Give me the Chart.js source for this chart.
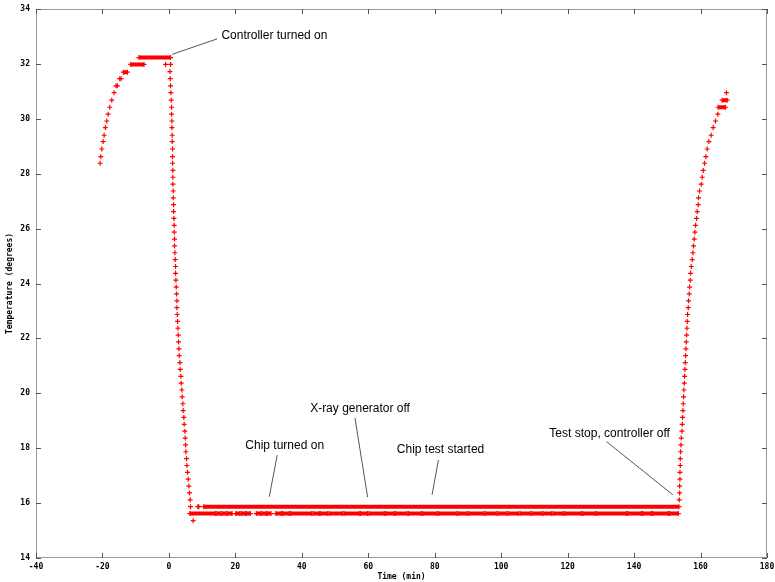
<!DOCTYPE html>
<html>
<head>
<meta charset="utf-8">
<title>Temperature log</title>
<script src="https://cdn.jsdelivr.net/npm/chart.js@4.4.1/dist/chart.umd.min.js"></script>
<style>
  html, body { margin: 0; padding: 0; background: #fff; }
  canvas { display: block; }
</style>
</head>
<body>
<canvas id="tempChart" width="775" height="582"></canvas>
<script>
// --- messwerte (Zeit in min, Temperatur in Grad) ---

// Aufheizen vor dem Einschalten des Reglers
const warmTime = [-20.7, -20.5, -20.2, -19.8, -19.5, -19.1, -18.7, -18.3, -17.8, -17.2, -16.5, -15.9, -15.5, -14.8, -14.4, -1.0, 0.5];
const warmTemp = [28.38, 28.62, 28.9, 29.17, 29.4, 29.68, 29.92, 30.17, 30.42, 30.68, 30.95, 31.2, 31.2, 31.46, 31.46, 31.98, 31.98];

// Abkühlen nach dem Einschalten
const coolTime = [0.3, 0.4, 0.5, 0.6, 0.7, 0.8, 0.8, 0.9, 0.9, 1.0, 1.0, 1.1, 1.1, 1.1, 1.2, 1.2, 1.2, 1.3, 1.3, 1.4, 1.4,
                  1.5, 1.6, 1.6, 1.7, 1.7, 1.8, 1.9, 2.0, 2.0, 2.1, 2.2, 2.3, 2.4, 2.4, 2.5, 2.6, 2.7, 2.8, 2.9, 3.0,
                  3.1, 3.3, 3.4, 3.6, 3.7, 3.9, 4.0, 4.2, 4.3, 4.5, 4.6, 4.8, 4.9, 5.0, 5.1, 5.3, 5.4, 5.6, 5.8, 6.0,
                  6.2, 6.4, 6.5, 7.3, 8.7, 9.0];
const coolTemp = [31.72, 31.46, 31.2, 30.95, 30.68, 30.42, 30.17, 29.92, 29.68, 29.4, 29.17, 28.9, 28.62, 28.38, 28.12,
                  27.87, 27.62, 27.37, 27.12, 26.87, 26.62, 26.37, 26.12, 25.87, 25.62, 25.37, 25.12, 24.87, 24.62,
                  24.37, 24.12, 23.87, 23.62, 23.37, 23.12, 22.87, 22.62, 22.37, 22.12, 21.87, 21.62, 21.37, 21.12,
                  20.87, 20.62, 20.37, 20.12, 19.87, 19.62, 19.37, 19.12, 18.87, 18.62, 18.37, 18.12, 17.87, 17.62,
                  17.37, 17.12, 16.87, 16.62, 16.37, 16.12, 15.87, 15.36, 15.87, 15.87];

// Wiederaufheizen nach Testende
const reheatTime = [153.6, 153.7, 153.7, 153.8, 153.8, 153.9, 153.9, 154.0, 154.1, 154.2, 154.4, 154.5, 154.6, 154.7,
                    154.8, 154.9, 155.0, 155.1, 155.2, 155.3, 155.4, 155.5, 155.6, 155.7, 155.8, 155.9, 156.0, 156.1,
                    156.3, 156.4, 156.6, 156.7, 156.9, 157.0, 157.2, 157.5, 157.7, 157.9, 158.1, 158.3, 158.5, 158.8,
                    159.0, 159.3, 159.4, 159.7, 160.2, 160.5, 160.8, 161.2, 161.6, 162.0, 162.5, 163.2, 163.8, 164.5,
                    165.2, 167.8];
const reheatTemp = [16.12, 16.37, 16.62, 16.87, 17.12, 17.37, 17.62, 17.87, 18.12, 18.37, 18.62, 18.87, 19.12, 19.37,
                    19.62, 19.87, 20.12, 20.37, 20.62, 20.87, 21.12, 21.37, 21.62, 21.87, 22.12, 22.37, 22.62, 22.87,
                    23.12, 23.37, 23.62, 23.87, 24.12, 24.37, 24.62, 24.87, 25.12, 25.37, 25.62, 25.87, 26.12, 26.37,
                    26.62, 26.87, 27.12, 27.37, 27.62, 27.87, 28.12, 28.38, 28.62, 28.9, 29.17, 29.4, 29.68, 29.92,
                    30.17, 30.95];

// dichte Abschnitte auf konstantem Niveau: [von, bis, Temperatur]
const plateauRuns = [
  [-13.7, -12.5, 31.7], [-11.5, -7.5, 31.98], [-9.0, 0.5, 32.23],
  [10.5, 153.5, 15.87],
  [165.3, 167.5, 30.42], [166.5, 168.0, 30.68],
];

// untere Messstufe flackert zwischen zwei Werten
const DITHER_TEMP = 15.62;
const ditherRuns = [
  [6.3, 14.0], [14.4, 15.6], [16.0, 17.2], [17.6, 19.0], [20.1, 21.4], [21.8, 23.0], [23.3, 24.5],
  [26.3, 27.6], [28.0, 29.3], [29.6, 30.7], [32.2, 33.8], [34.2, 36.2], [36.6, 43.0], [43.4, 45.3],
  [45.7, 47.8], [48.2, 52.3], [52.7, 57.3], [57.7, 59.8], [60.2, 64.8], [65.2, 67.8], [68.2, 71.7],
  [72.1, 75.9], [76.3, 80.7], [81.1, 86.7], [87.1, 89.7], [90.1, 94.8], [95.2, 98.7], [99.1, 101.7],
  [102.1, 105.3], [105.7, 108.9], [109.3, 112.2], [112.6, 115.2], [115.6, 118.8], [119.2, 124.2],
  [124.6, 128.4], [128.8, 137.7], [138.1, 142.2], [142.6, 145.2], [145.6, 150.3], [150.7, 153.3],
];

// Ereignisse: Text, Textposition, Linie von -> nach
const noteText = ['Controller turned on', 'X-ray generator off', 'Chip turned on', 'Chip test started', 'Test stop, controller off'];
const notePos  = [[15.8, 33.02], [42.5, 19.43], [23.0, 18.08], [68.6, 17.93], [114.5, 18.52]];
const noteLine = [[14.5, 32.91, 1.0, 32.35], [56.0, 19.1, 59.8, 16.22], [32.6, 17.75, 30.2, 16.23],
                  [81.1, 17.57, 79.2, 16.3], [131.7, 18.24, 151.7, 16.3]];

const X_MIN = -40, X_MAX = 180, X_STEP = 20;
const Y_MIN = 14, Y_MAX = 34, Y_STEP = 2;

// --- Darstellung ---
const RED = '#ff0000';
const AXIS_FONT = { family: "'DejaVu Sans Mono', monospace", size: 8, weight: 'bold' };
const NOTE_FONT = "12px 'Liberation Sans', Arial, sans-serif";

const toPoints = (xs, ys) => xs.map((x, i) => ({ x, y: ys[i] }));

// Abschnitte als Linienstücke, getrennt durch Lücken (y = null)
const runPoints = runs => runs.flatMap(([a, b, t]) => [{ x: a, y: t }, { x: b, y: t }, { x: b, y: null }]);

const frameTicks = {
  id: 'frameTicks',
  beforeDatasetsDraw(chart) {
    const { ctx, chartArea: { left, right, top, bottom }, scales: { x, y } } = chart;
    const len = 5;
    ctx.save();
    ctx.lineWidth = 1;
    ctx.strokeStyle = '#9a9a9a';
    ctx.strokeRect(left + 0.5, top + 0.5, right - left - 1, bottom - top - 1);
    ctx.strokeStyle = '#555';
    ctx.beginPath();
    x.ticks.forEach(t => {
      const px = Math.round(x.getPixelForValue(t.value)) + 0.5;
      ctx.moveTo(px, bottom); ctx.lineTo(px, bottom - len);
      ctx.moveTo(px, top); ctx.lineTo(px, top + len);
    });
    y.ticks.forEach(t => {
      const py = Math.round(y.getPixelForValue(t.value)) + 0.5;
      ctx.moveTo(left, py); ctx.lineTo(left + len, py);
      ctx.moveTo(right, py); ctx.lineTo(right - len, py);
    });
    ctx.stroke();
    ctx.restore();
  }
};

const notes = {
  id: 'notes',
  afterDatasetsDraw(chart) {
    const { ctx, scales: { x, y } } = chart;
    ctx.save();
    ctx.font = NOTE_FONT;
    ctx.fillStyle = '#000';
    ctx.textAlign = 'left';
    ctx.textBaseline = 'middle';
    ctx.strokeStyle = '#555';
    ctx.lineWidth = 1;
    noteText.forEach((txt, i) => {
      ctx.fillText(txt, x.getPixelForValue(notePos[i][0]), y.getPixelForValue(notePos[i][1]));
      const [x1, y1, x2, y2] = noteLine[i];
      ctx.beginPath();
      ctx.moveTo(x.getPixelForValue(x1), y.getPixelForValue(y1));
      ctx.lineTo(x.getPixelForValue(x2), y.getPixelForValue(y2));
      ctx.stroke();
    });
    ctx.restore();
  }
};

const crossStyle = {
  showLine: false,
  pointStyle: 'cross',
  pointRadius: 2.5,
  pointHoverRadius: 2.5,
  borderColor: RED,
  backgroundColor: RED,
  pointBorderWidth: 1.2,
};

const runStyle = {
  showLine: true,
  spanGaps: false,
  borderColor: RED,
  backgroundColor: RED,
  borderWidth: 4,
  pointStyle: 'cross',
  pointRadius: 2.5,
  pointBorderWidth: 1.2,
  fill: false,
};

new Chart(document.getElementById('tempChart'), {
  type: 'scatter',
  plugins: [frameTicks, notes],
  data: {
    datasets: [
      { ...crossStyle, data: toPoints(warmTime, warmTemp) },
      { ...crossStyle, data: toPoints(coolTime, coolTemp) },
      { ...crossStyle, data: toPoints(reheatTime, reheatTemp) },
      { ...runStyle, data: runPoints(plateauRuns) },
      { ...runStyle, data: runPoints(ditherRuns.map(([a, b]) => [a, b, DITHER_TEMP])) },
    ]
  },
  options: {
    responsive: false,
    animation: false,
    devicePixelRatio: 1,
    layout: { padding: { top: 9, right: 8, left: 0, bottom: 0 } },
    plugins: { legend: { display: false }, tooltip: { enabled: false } },
    scales: {
      x: {
        type: 'linear',
        min: X_MIN, max: X_MAX,
        ticks: { stepSize: X_STEP, font: AXIS_FONT, color: '#000', padding: 4, maxRotation: 0 },
        grid: { display: false, drawTicks: false },
        border: { display: false },
        title: { display: true, text: 'Time (min)', font: AXIS_FONT, color: '#000', padding: { top: 0, bottom: 0 } },
        afterFit(s) { s.height = 24; s.paddingLeft = 0; s.paddingRight = 0; }
      },
      y: {
        type: 'linear',
        min: Y_MIN, max: Y_MAX,
        ticks: { stepSize: Y_STEP, font: AXIS_FONT, color: '#000', padding: 6 },
        grid: { display: false, drawTicks: false },
        border: { display: false },
        title: { display: true, text: 'Temperature (degrees)', font: AXIS_FONT, color: '#000', padding: { top: 5, bottom: 0 } },
        afterFit(s) { s.width = 36; s.paddingTop = 0; s.paddingBottom = 0; }
      }
    }
  }
});
</script>
</body>
</html>
